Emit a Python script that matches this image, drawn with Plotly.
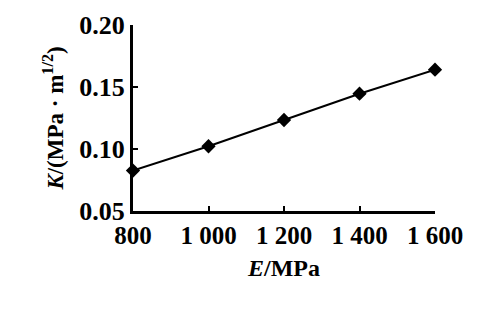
import plotly.graph_objects as go

E = [800, 1000, 1200, 1400, 1600]
K = [0.0826, 0.1022, 0.1234, 0.1446, 0.164]
x_ticks = [800, 1000, 1200, 1400, 1600]
x_tick_text = ["800", "1 000", "1 200", "1 400", "1 600"]
y_ticks = [0.05, 0.10, 0.15, 0.20]
y_tick_text = ["0.05", "0.10", "0.15", "0.20"]

font = "Liberation Serif"

fig = go.Figure()
fig.add_trace(go.Scatter(
    x=E, y=K, mode="lines+markers",
    line=dict(color="black", width=2),
    marker=dict(symbol="diamond", size=11, color="black"),
    cliponaxis=False, showlegend=False,
))

fig.update_layout(
    width=478, height=333,
    margin=dict(l=133, r=43, t=25, b=122),
    paper_bgcolor="white", plot_bgcolor="white",
    font=dict(family=font, color="black"),
)
fig.update_xaxes(
    range=[800, 1600], tickvals=x_ticks, ticktext=x_tick_text,
    ticks="inside", ticklen=5, tickwidth=2, tickcolor="black",
    showline=True, linecolor="black", linewidth=3, showgrid=False, zeroline=False,
    tickfont=dict(family=font, size=25, color="black", weight="bold"),
    title=dict(text="<i>E</i>/MPa", font=dict(family=font, size=24, color="black", weight="bold"), standoff=12),
)
fig.update_yaxes(
    range=[0.05, 0.20], tickvals=y_ticks, ticktext=y_tick_text,
    ticks="inside", ticklen=5, tickwidth=2, tickcolor="black",
    showline=True, linecolor="black", linewidth=3, showgrid=False, zeroline=False,
    tickfont=dict(family=font, size=26, color="black", weight="bold"),
    title=dict(text="<i>K</i>/(MPa · m<sup>1/2</sup>)", font=dict(family=font, size=23, color="black", weight="bold"), standoff=10),
)

fig.write_html("out.html")
